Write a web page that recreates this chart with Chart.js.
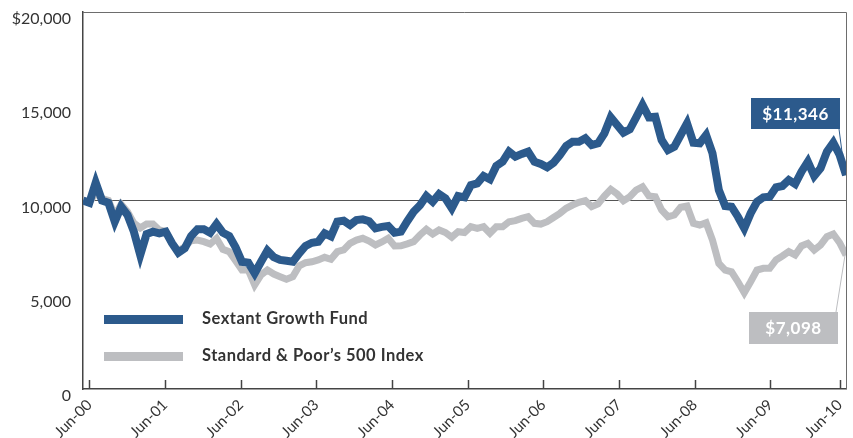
<!DOCTYPE html>
<html><head><meta charset="utf-8">
<script src="https://cdn.jsdelivr.net/npm/chart.js@4"></script>
<style>html,body{margin:0;padding:0;background:#fff;}#wrap{width:853px;height:438px;position:relative;}</style>
</head><body><div id="wrap"><canvas id="c" width="853" height="438"></canvas></div>
<script>
// months since Jun-00 (0 .. 120)
const tickLabels = ['Jun-00','Jun-01','Jun-02','Jun-03','Jun-04','Jun-05','Jun-06','Jun-07','Jun-08','Jun-09','Jun-10'];
const tickMonths = [1,12.9,24.8,36.7,48.6,60.5,72.4,84.3,96.2,108.1,119];
const yTickValues = [0,5000,10000,15000,20000];
const yTickLabels = ['0','5,000','10,000','15,000','$20,000'];
const seriesNames = ['Sextant Growth Fund','Standard & Poor\u2019s 500 Index'];

const sextant = [
10000,9880,10950,10000,9880,8875,9670,9230,8345,7110,
8220,8345,8260,8345,7730,7230,7460,8115,8470,8470,
8290,8750,8290,8115,7515,6750,6700,6140,6750,7340,
7000,6845,6800,6750,7200,7590,7760,7815,8260,8100,
8875,8930,8700,8965,9000,8900,8525,8600,8645,8290,
8345,8900,9400,9750,10240,9935,10345,10115,9585,10240,
10170,10820,10910,11300,11125,11830,12060,12590,12325,12470,
12590,12060,11935,11760,12005,12415,12890,13120,13120,13300,
12945,13035,13565,14415,14005,13600,13775,14415,15065,14415,
14445,13210,12680,12855,13475,14095,13065,13035,13475,12505,
10555,9710,9670,9140,8525,9320,9935,10170,10200,10700,
10770,11090,10875,11530,12060,11300,11710,12590,13065,12415,
11346];
const sp500 = [
10000,9880,10400,10100,10000,9200,9800,9400,8800,8540,
8750,8750,8435,8350,7730,7340,7530,7870,7900,7815,
7690,7990,7410,7285,6805,6310,6310,5515,6050,6310,
6100,5960,5820,5960,6525,6700,6750,6845,6985,6880,
7285,7375,7730,7900,7995,7850,7640,7800,7995,7590,
7600,7700,7815,8170,8470,8220,8435,8300,8050,8345,
8300,8610,8525,8610,8260,8610,8610,8875,8930,9050,
9140,8790,8750,8875,9100,9320,9585,9760,9900,9990,
9670,9815,10240,10595,10345,9990,10200,10555,10730,10240,
10200,9495,9140,9230,9640,9710,8790,8700,8820,7905,
6665,6310,6220,5690,5110,5690,6310,6400,6400,6845,
7055,7285,7110,7590,7730,7375,7640,8080,8220,7760,
7098];

const BLUE = '#2c5a8c';
const GRAY = '#bdbec1';
const TXT = '#333333';
const FONT = 'Lato, "Open Sans", sans-serif';

const toPts = arr => arr.map((v, i) => ({x: i, y: v}));

const decor = {
  id: 'decor',
  beforeDatasetsDraw(chart) {
    const {ctx, chartArea: a} = chart;
    ctx.save();
    ctx.strokeStyle = '#6d6d6d';
    ctx.lineWidth = 1;
    ctx.beginPath();
    ctx.moveTo(a.left, a.top + 0.5); ctx.lineTo(a.right + 0.5, a.top + 0.5);
    ctx.lineTo(a.right + 0.5, a.bottom);
    ctx.stroke();
    // inside tick marks on x axis
    const xs = chart.scales.x;
    ctx.strokeStyle = '#444';
    ctx.lineWidth = 1.5;
    xs.ticks.forEach(t => {
      const px = Math.round(xs.getPixelForValue(t.value)) + 0.5;
      ctx.beginPath(); ctx.moveTo(px, a.bottom); ctx.lineTo(px, a.bottom - 9); ctx.stroke();
    });
    ctx.restore();
  },
  afterDatasetsDraw(chart) {
    const {ctx} = chart;
    const xs = chart.scales.x, ys = chart.scales.y;
    ctx.save();
    // legend
    const ds = chart.data.datasets;
    const legY = [319.5, 356.5];
    ds.forEach((d, i) => {
      ctx.strokeStyle = d.borderColor;
      ctx.lineWidth = 9;
      ctx.beginPath(); ctx.moveTo(104, legY[i]); ctx.lineTo(183, legY[i]); ctx.stroke();
      ctx.fillStyle = TXT;
      ctx.font = 'bold 16.5px ' + FONT;
      try { ctx.letterSpacing = '0.5px'; } catch (e) {}
      ctx.textBaseline = 'alphabetic';
      ctx.textAlign = 'left';
      ctx.fillText(d.label, 202, legY[i] + 4.5);
      try { ctx.letterSpacing = '0px'; } catch (e) {}
    });
    // end value callouts
    const boxes = [
      {x: 751, y: 98, w: 89, h: 31, ax: 839, ay: 129, color: BLUE},
      {x: 749, y: 312, w: 89, h: 32, ax: 836, ay: 312, color: GRAY}
    ];
    ds.forEach((d, i) => {
      const b = boxes[i];
      const last = d.data[d.data.length - 1];
      const px = xs.getPixelForValue(last.x), py = ys.getPixelForValue(last.y);
      ctx.strokeStyle = b.color; ctx.lineWidth = 1;
      ctx.beginPath(); ctx.moveTo(b.ax, b.ay); ctx.lineTo(px - 1, py); ctx.stroke();
      ctx.fillStyle = b.color;
      ctx.fillRect(b.x, b.y, b.w, b.h);
      ctx.fillStyle = '#ffffff';
      ctx.font = 'bold 17px ' + FONT;
      try { ctx.letterSpacing = '0.5px'; } catch (e) {}
      ctx.textAlign = 'center'; ctx.textBaseline = 'middle';
      ctx.fillText('$' + last.y.toLocaleString('en-US'), b.x + b.w / 2, b.y + b.h / 2 + 1);
      try { ctx.letterSpacing = '0px'; } catch (e) {}
    });
    ctx.restore();
  }
};

new Chart(document.getElementById('c'), {
  type: 'line',
  data: {
    datasets: [
      {label: seriesNames[0], data: toPts(sextant), borderColor: BLUE, borderWidth: 8, pointRadius: 0, tension: 0, borderJoinStyle: 'miter', fill: false},
      {label: seriesNames[1], data: toPts(sp500), borderColor: GRAY, borderWidth: 7, pointRadius: 0, tension: 0, borderJoinStyle: 'miter', fill: false}
    ]
  },
  options: {
    responsive: false, animation: false, devicePixelRatio: 1,
    layout: {padding: {top: 12, right: 7, left: 0, bottom: 0}},
    plugins: {legend: {display: false}, tooltip: {enabled: false}},
    scales: {
      x: {
        type: 'linear', min: 0, max: 120,
        afterBuildTicks: s => { s.ticks = tickMonths.map(v => ({value: v})); },
        afterFit: s => { s.height = 49; s.paddingLeft = 0; s.paddingRight = 0; },
        grid: {display: true, drawOnChartArea: false, drawTicks: false},
        border: {display: true, color: '#444', width: 1.5},
        ticks: {autoSkip: false, minRotation: 45, maxRotation: 45, padding: 7, color: TXT,
          font: {family: FONT, size: 15},
          callback: (v, i) => tickLabels[i]}
      },
      y: {
        min: 0, max: 20000,
        afterBuildTicks: s => { s.ticks = yTickValues.map(v => ({value: v})); },
        afterFit: s => { s.width = 83; s.paddingTop = 0; s.paddingBottom = 0; },
        grid: {drawTicks: false, lineWidth: 1,
          color: c => (c.tick && c.tick.value === 10000) ? '#555' : 'rgba(0,0,0,0)'},
        border: {display: true, color: '#444', width: 1.5},
        ticks: {padding: 12, labelOffset: 7, color: TXT, font: {family: FONT, size: 16},
          callback: (v, i) => yTickLabels[i]}
      }
    }
  },
  plugins: [decor]
});
</script></body></html>
